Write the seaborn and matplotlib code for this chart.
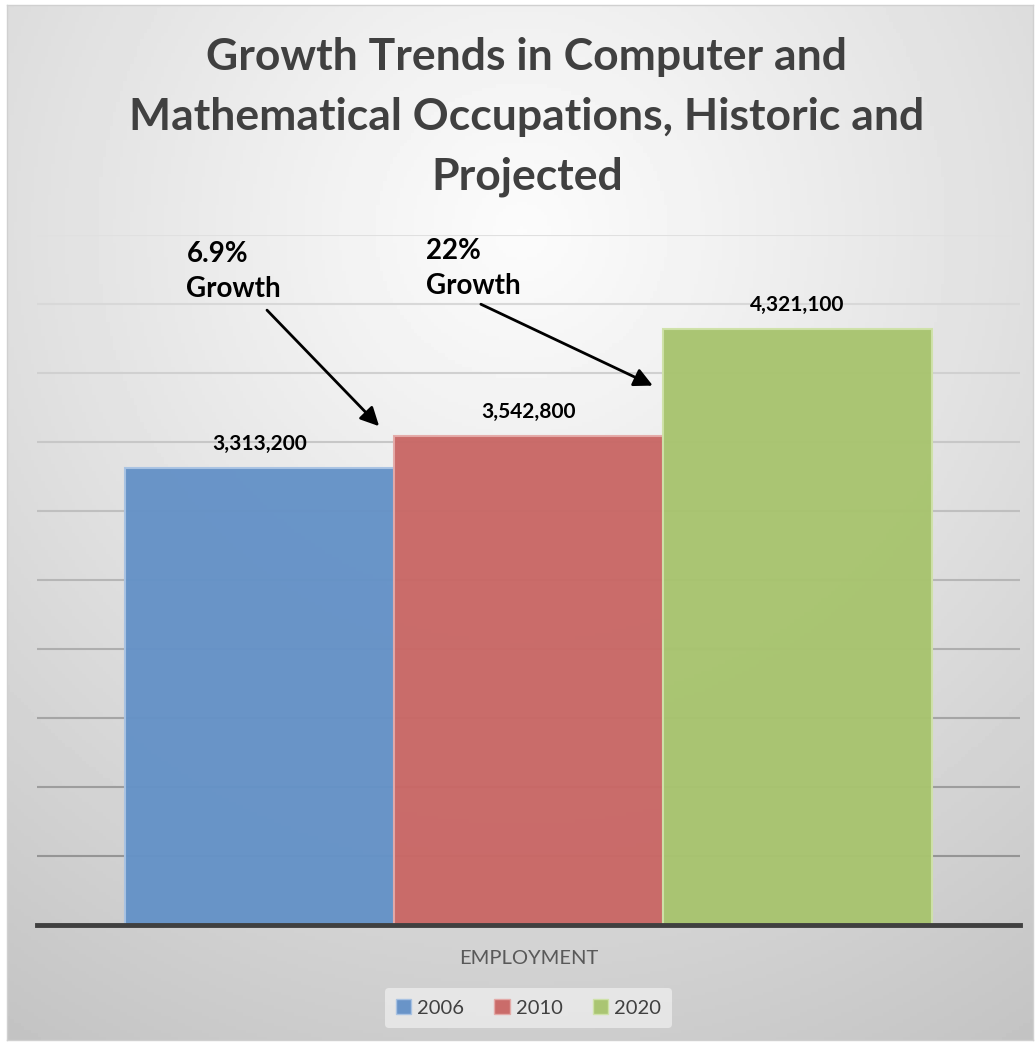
import numpy as np
import pandas as pd
import matplotlib
matplotlib.use('Agg')
import matplotlib.pyplot as plt
import seaborn as sns

# --- data ---
category = ['EMPLOYMENT']
years = ['2006', '2010', '2020']
employment = [3313200, 3542800, 4321100]
bar_colors = ['#6592c7', '#c96866', '#a8c46f']
edge_colors = ['#a9c3e3', '#e4aaa8', '#cfe2a8']
growth_labels = ['6.9%\nGrowth', '22%\nGrowth']

title = 'Growth Trends in Computer and\nMathematical Occupations, Historic and\nProjected'

df = pd.DataFrame({'cat': category * len(years), 'year': years, 'value': employment})

sns.set_theme(style='white')
plt.rcParams['font.family'] = ['Lato', 'DejaVu Sans']

W, H = 1036, 1045
fig = plt.figure(figsize=(W / 100, H / 100), dpi=100)
fig.patch.set_facecolor('white')

# --- background radial gradient ---
bg = fig.add_axes([7 / W, 5 / H, (1033 - 7) / W, (1040 - 5) / H])
yy, xx = np.mgrid[0:300, 0:300]
cx, cy = 150, 65
r = np.sqrt(((xx - cx) / 300.0) ** 2 + ((yy - cy) / 300.0) ** 2)
r = r / r.max()
grad = 0.985 - 0.22 * r ** 1.1
bg.imshow(grad, cmap='gray', vmin=0, vmax=1, aspect='auto', extent=[0, 1, 1, 0])
bg.set_xticks([]); bg.set_yticks([])
for s in bg.spines.values():
    s.set_color('#d0d0d0')
    s.set_linewidth(1)

# --- main axes ---
ax = fig.add_axes([37 / W, (H - 925) / H, (1020 - 37) / W, (925 - 235) / H])
ax.set_facecolor('none')
sns.barplot(data=df, x='cat', y='value', hue='year', palette=bar_colors,
            width=0.82, saturation=1, ax=ax, legend=True, zorder=2, alpha=0.97)
for i, cont in enumerate(ax.containers):
    for p in cont:
        p.set_edgecolor(edge_colors[i])
        p.set_linewidth(1.5)
    ax.bar_label(cont, labels=[f'{v:,.0f}' for v in cont.datavalues], padding=10,
                 fontsize=15, fontweight='bold', color='black')

ax.set_ylim(0, 5000000)
ax.set_xlim(-0.5, 0.5)
ax.set_yticks(np.arange(0, 5000001, 500000))
ax.set_yticklabels([])
ax.tick_params(axis='y', length=0)
ax.tick_params(axis='x', length=0, pad=18, labelsize=14.5, labelcolor='#595959')
ax.set_xlabel('')
ax.set_ylabel('')
ax.grid(axis='y', linewidth=1.5, zorder=1)
gl = ax.yaxis.get_gridlines()
n = len(gl)
for k, line in enumerate(gl):
    shade = 0.55 + 0.33 * k / (n - 1)
    line.set_color((shade, shade, shade))
for side in ['top', 'left', 'right']:
    ax.spines[side].set_visible(False)
ax.spines['bottom'].set_color('#404040')
ax.spines['bottom'].set_linewidth(3.5)
ax.spines['bottom'].set_zorder(5)

# --- growth annotations ---
ax.text(-0.348, 4960000, growth_labels[0], ha='left', va='top', fontsize=20,
        fontweight='bold', color='black', linespacing=1.45)
ax.text(-0.104, 4980000, growth_labels[1], ha='left', va='top', fontsize=20,
        fontweight='bold', color='black', linespacing=1.45)
ax.annotate('', xy=(-0.150, 3600000), xytext=(-0.268, 4470000),
            arrowprops=dict(arrowstyle='-|>', lw=2, color='black', mutation_scale=28))
ax.annotate('', xy=(0.129, 3900000), xytext=(-0.051, 4507000),
            arrowprops=dict(arrowstyle='-|>', lw=2, color='black', mutation_scale=28))

# --- legend ---
leg = ax.legend(loc='center', bbox_to_anchor=(0.5, (H - 1008 - (H - 925)) / (925 - 235)),
                ncol=3, frameon=True, fontsize=14.5, handlelength=0.75, handleheight=0.75,
                handletextpad=0.3, columnspacing=1.5, borderpad=0.55)
leg.get_frame().set_facecolor('#ececec')
leg.get_frame().set_edgecolor('none')
leg.get_frame().set_alpha(0.8)
for t in leg.get_texts():
    t.set_color('#404040')
for h_, ec in zip(leg.legend_handles, edge_colors):
    h_.set_edgecolor(ec)

# --- title ---
fig.text(527 / W, 1 - 117 / H, title, ha='center', va='center', fontsize=32,
         fontweight='bold', color='#404040', linespacing=1.6)

fig.savefig('out.png', dpi=100, facecolor=fig.get_facecolor())
